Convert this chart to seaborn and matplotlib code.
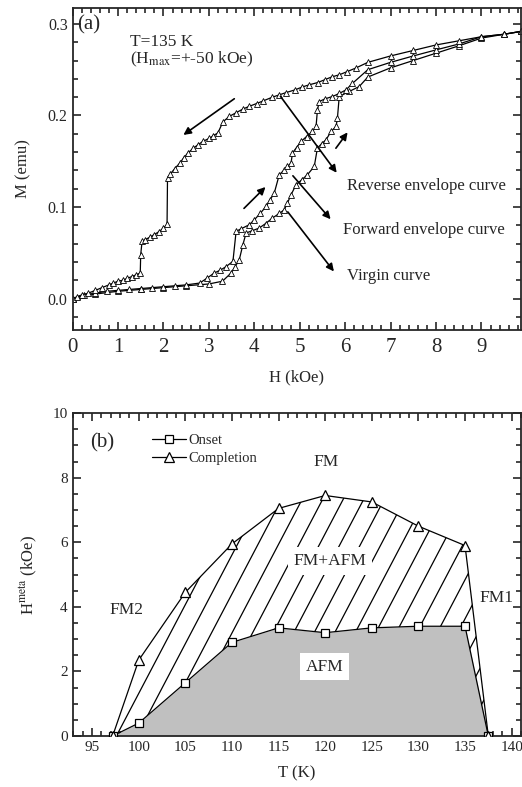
import numpy as np
import pandas as pd
import matplotlib
matplotlib.use("Agg")
import matplotlib.pyplot as plt
from matplotlib.patches import Polygon
from matplotlib.ticker import MultipleLocator
import seaborn as sns

# ---------------- data: panel (a) ----------------
rev_H = [0.0, 0.1, 0.2, 0.35, 0.5, 0.65, 0.8, 0.9, 1.0, 1.1, 1.2, 1.3, 1.4, 1.49, 1.50, 1.53,
         1.6, 1.7, 1.8, 1.9, 2.0, 2.08, 2.09, 2.15, 2.25, 2.36, 2.45, 2.54, 2.65, 2.76, 2.88,
         3.01, 3.1, 3.2, 3.31, 3.45, 3.6, 3.75, 3.89, 4.05, 4.2, 4.4, 4.55, 4.7, 4.9, 5.05,
         5.21, 5.4, 5.55, 5.7, 5.87, 6.05, 6.23, 6.5, 7.0, 7.5, 8.0, 8.5, 9.0, 9.5, 9.86]
rev_M = [0.000, 0.002, 0.004, 0.006, 0.009, 0.012, 0.015, 0.017, 0.019, 0.020, 0.022, 0.024,
         0.026, 0.028, 0.048, 0.0625, 0.0645, 0.067, 0.070, 0.073, 0.077, 0.081, 0.1317, 0.136,
         0.142, 0.148, 0.154, 0.159, 0.164, 0.168, 0.172, 0.175, 0.178, 0.181, 0.193, 0.199,
         0.203, 0.207, 0.210, 0.213, 0.216, 0.220, 0.2225, 0.225, 0.228, 0.231, 0.2335, 0.236,
         0.239, 0.242, 0.2444, 0.248, 0.2517, 0.258, 0.265, 0.271, 0.277, 0.2815, 0.286,
         0.2887, 0.2917]

fwd_H = [0.0, 0.25, 0.5, 0.75, 1.0, 1.25, 1.5, 1.75, 2.0, 2.25, 2.5, 2.8, 2.95, 3.12, 3.25,
         3.38, 3.53, 3.6, 3.7, 3.89, 4.0, 4.13, 4.26, 4.35, 4.44, 4.55, 4.65, 4.73, 4.81, 4.84,
         4.93, 5.03, 5.15, 5.28, 5.36, 5.39, 5.43, 5.55, 5.72, 5.87, 6.02, 6.16, 6.5, 7.0,
         7.5, 8.0, 8.5, 9.0, 9.5, 9.86]
fwd_M = [0.000, 0.004, 0.006, 0.008, 0.009, 0.010, 0.011, 0.012, 0.013, 0.014, 0.015, 0.017,
         0.022, 0.028, 0.031, 0.035, 0.0407, 0.0734, 0.076, 0.0807, 0.086, 0.093, 0.1007,
         0.108, 0.1153, 0.1353, 0.140, 0.1443, 0.148, 0.159, 0.165, 0.1716, 0.177, 0.1825,
         0.188, 0.206, 0.2152, 0.218, 0.2207, 0.224, 0.228, 0.235, 0.250, 0.258, 0.265,
         0.2716, 0.278, 0.286, 0.2887, 0.2917]

vir_H = [0.0, 0.5, 1.0, 1.5, 2.0, 2.5, 3.0, 3.3, 3.49, 3.58, 3.67, 3.75, 3.82, 3.95, 4.11,
         4.25, 4.4, 4.55, 4.66, 4.73, 4.81, 4.92, 5.05, 5.17, 5.32, 5.39, 5.48, 5.58, 5.69,
         5.8, 5.83, 5.87, 6.09, 6.31, 6.5, 7.0, 7.5, 8.0, 8.5, 9.0, 9.5, 9.86]
vir_M = [0.000, 0.005, 0.008, 0.010, 0.012, 0.014, 0.016, 0.019, 0.028, 0.035, 0.0425,
         0.059, 0.0717, 0.074, 0.0771, 0.082, 0.088, 0.093, 0.097, 0.1044, 0.1135, 0.1244,
         0.130, 0.1353, 0.1443, 0.1644, 0.169, 0.1735, 0.1825, 0.188, 0.197, 0.2207,
         0.2262, 0.2316, 0.242, 0.252, 0.260, 0.268, 0.276, 0.2845, 0.2887, 0.2917]

# ---------------- data: panel (b) ----------------
T_K = [97.2, 100, 105, 110, 115, 120, 125, 130, 135, 137.5]
onset = [0.0, 0.4, 1.65, 2.9, 3.35, 3.2, 3.35, 3.4, 3.4, 0.0]
completion = [0.0, 2.35, 4.45, 5.95, 7.05, 7.45, 7.25, 6.5, 5.9, 0.0]

# ---------------- style ----------------
sns.set_style("ticks")
plt.rcParams['font.family'] = ['Liberation Serif', 'DejaVu Serif']
plt.rcParams['mathtext.fontset'] = 'stix'
plt.rcParams['xtick.direction'] = 'in'
plt.rcParams['ytick.direction'] = 'in'

fig = plt.figure(figsize=(5.22, 7.87), dpi=100)
axa = fig.add_axes([0.139, 0.581, 0.859, 0.409])
axb = fig.add_axes([0.139, 0.0648, 0.859, 0.4102])

# ---------------- panel (a) ----------------
mk = dict(marker='^', markersize=4.2, markerfacecolor='white', markeredgecolor='black',
          markeredgewidth=0.6, color='black', linewidth=0.9)
for H, M in [(vir_H, vir_M), (fwd_H, fwd_M), (rev_H, rev_M)]:
    df = pd.DataFrame({'H': H, 'M': M})
    sns.lineplot(data=df, x='H', y='M', ax=axa, sort=False, estimator=None, **mk)

axa.set_xlim(0, 9.87)
axa.set_ylim(-0.034, 0.3175)
axa.xaxis.set_major_locator(MultipleLocator(1))
axa.xaxis.set_minor_locator(MultipleLocator(0.2))
axa.yaxis.set_major_locator(MultipleLocator(0.1))
axa.yaxis.set_minor_locator(MultipleLocator(0.02))
axa.yaxis.set_major_formatter(matplotlib.ticker.FormatStrFormatter('%.1f'))
axa.tick_params(which='both', direction='in', top=True, right=True, width=1.2)
axa.tick_params(which='major', length=6)
axa.tick_params(which='minor', length=3.5)
axa.tick_params(axis='x', labelsize=15, pad=6)
axa.tick_params(axis='y', labelsize=11.5)
axa.set_xlabel('H (kOe)', fontsize=12, labelpad=9)
axa.set_ylabel('M (emu)', fontsize=12, labelpad=12)
for s in axa.spines.values():
    s.set_linewidth(1.3)

axa.text(0.36, 0.299, '(a)', fontsize=15, ha='center', va='center')
axa.text(1.26, 0.2807, 'T=135 K', fontsize=12.5, va='center')
axa.text(1.26, 0.2607, '(H$_{\\rm max}$=+-50 kOe)', fontsize=12.5, va='center')

arrow_kw = dict(arrowstyle='-|>', color='black', lw=1.2, mutation_scale=11)
arrows_a = [((3.61, 0.220), (2.39, 0.177)),
            ((3.73, 0.0964), (4.29, 0.124)),
            ((5.76, 0.1618), (6.09, 0.184)),
            ((4.54, 0.2233), (5.85, 0.135)),
            ((4.81, 0.1364), (5.72, 0.0844)),
            ((4.70, 0.0971), (5.79, 0.0273))]
for start, end in arrows_a:
    axa.annotate('', xy=end, xytext=start, arrowprops=arrow_kw)
axa.text(6.05, 0.1225, 'Reverse envelope curve', fontsize=12, va='center')
axa.text(5.96, 0.0753, 'Forward envelope curve', fontsize=12, va='center')
axa.text(6.04, 0.0244, 'Virgin curve', fontsize=12, va='center')

# ---------------- panel (b) ----------------
axb.set_xlim(92.9, 141.0)
axb.set_ylim(0, 10)

axb.fill_between(T_K, 0, onset, color='#c0c0c0', linewidth=0, zorder=1)

verts = np.column_stack([np.r_[T_K, T_K[::-1]], np.r_[onset, completion[::-1]]])
clip = Polygon(verts, closed=True, transform=axb.transData, facecolor='none', edgecolor='none')
axb.add_patch(clip)
slope = 0.55
for x0 in np.arange(80.0, 141.0, 2.2):
    ln, = axb.plot([x0, x0 + 10 / slope], [0, 10], color='black', lw=0.9, zorder=1.5)
    ln.set_clip_path(clip)

dfb = pd.DataFrame({'T': T_K, 'Onset': onset, 'Completion': completion})
sns.lineplot(data=dfb, x='T', y='Onset', ax=axb, sort=False, estimator=None, color='black',
             lw=0.9, marker='s', markersize=6, markerfacecolor='white',
             markeredgecolor='black', markeredgewidth=0.9, label='Onset', zorder=3)
sns.lineplot(data=dfb, x='T', y='Completion', ax=axb, sort=False, estimator=None, color='black',
             lw=0.9, marker='^', markersize=7, markerfacecolor='white',
             markeredgecolor='black', markeredgewidth=0.9, label='Completion', zorder=3)

leg = axb.legend(loc='upper left', bbox_to_anchor=(0.165, 0.955), frameon=False,
                 fontsize=10.5, handlelength=2.3, handletextpad=0.2, labelspacing=0.35,
                 borderaxespad=0)

axb.xaxis.set_major_locator(MultipleLocator(5))
axb.xaxis.set_minor_locator(MultipleLocator(1))
axb.yaxis.set_major_locator(MultipleLocator(2))
axb.yaxis.set_minor_locator(MultipleLocator(0.5))
axb.tick_params(which='both', direction='in', top=True, right=True, width=1.2)
axb.tick_params(which='major', length=6)
axb.tick_params(which='minor', length=3.5)
axb.tick_params(axis='both', labelsize=11)
axb.set_xlabel('T (K)', fontsize=12, labelpad=8)
axb.set_ylabel('H$^{\\rm meta}$ (kOe)', fontsize=12, labelpad=10)
for s in axb.spines.values():
    s.set_linewidth(1.3)

axb.text(96.1, 9.07, '(b)', fontsize=15, ha='center', va='center')
axb.text(120.1, 8.49, 'FM', fontsize=12.5, ha='center', va='center')
axb.text(120.5, 5.42, 'FM+AFM', fontsize=12.5, ha='center', va='center', zorder=4,
         bbox=dict(facecolor='white', edgecolor='none', pad=4))
axb.text(98.7, 3.9, 'FM2', fontsize=12.5, ha='center', va='center')
axb.text(138.4, 4.27, 'FM1', fontsize=12.5, ha='center', va='center')
axb.text(119.9, 2.15, 'AFM', fontsize=12.5, ha='center', va='center', zorder=4,
         bbox=dict(facecolor='white', edgecolor='none', pad=4))

fig.savefig('out.png', dpi=100)
